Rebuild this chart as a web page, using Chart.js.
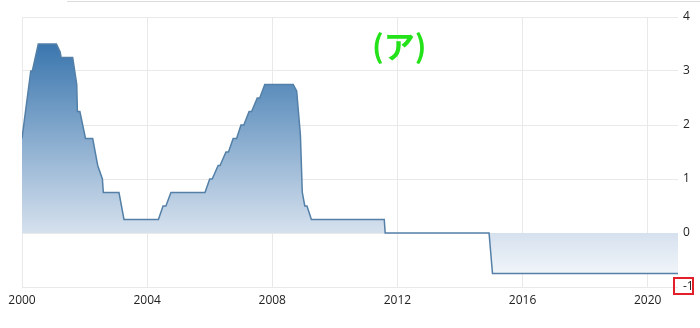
<!DOCTYPE html>
<html>
<head>
<meta charset="utf-8">
<script src="https://cdn.jsdelivr.net/npm/chart.js@4"></script>
<style>
  body { margin: 0; background: #fff; }
  #wrap { position: relative; width: 700px; height: 328px; overflow: hidden; }
  #topline { position: absolute; left: 67px; top: 1px; width: 640px; height: 1px; background: #dcdcdc; }
  #label { position: absolute; left: 372px; top: 27px; font-family: "Noto Sans CJK JP", sans-serif; font-weight: bold; font-size: 31px; line-height: 36px; color: #24e21a; }
  #redbox { position: absolute; left: 673px; top: 277px; width: 17px; height: 14px; border: 2px solid #e3202a; }
</style>
</head>
<body>
<div id="wrap">
  <canvas id="rate-chart" width="700" height="328"></canvas>
  <div id="topline"></div>
  <div id="label">(ア)</div>
  <div id="redbox"></div>
</div>
<script>
// decimal years and rate (%)
const dates = [
    2000.00, 2000.28, 2000.33, 2000.52, 2001.10, 2001.22, 2001.25, 2001.62,
    2001.75, 2001.77, 2001.85, 2002.03, 2002.26, 2002.42, 2002.57, 2002.60,
    2003.10, 2003.26, 2004.36, 2004.51, 2004.60, 2004.76, 2005.85, 2006.00,
    2006.08, 2006.27, 2006.33, 2006.52, 2006.60, 2006.75, 2006.86, 2007.00,
    2007.09, 2007.26, 2007.34, 2007.52, 2007.60, 2007.76, 2008.67, 2008.78,
    2008.90, 2008.96, 2009.04, 2009.11, 2009.25, 2011.58, 2011.61, 2014.93,
    2015.04, 2020.97
];
const rates = [
    1.75, 3.00, 3.00, 3.50, 3.50, 3.35, 3.25, 3.25,
    2.75, 2.25, 2.25, 1.75, 1.75, 1.25, 1.00, 0.75,
    0.75, 0.25, 0.25, 0.50, 0.50, 0.75, 0.75, 1.00,
    1.00, 1.25, 1.25, 1.50, 1.50, 1.75, 1.75, 2.00,
    2.00, 2.25, 2.25, 2.50, 2.50, 2.75, 2.75, 2.63,
    1.81, 0.75, 0.50, 0.50, 0.25, 0.25, 0.00, 0.00,
    -0.75, -0.75
];
const xTicks = [2000, 2004, 2008, 2012, 2016, 2020];
const yTicks = [-1, 0, 1, 2, 3, 4];

const points = dates.map((d, i) => ({ x: d, y: rates[i] }));

function areaGradient(context) {
    const area = context.chart.chartArea;
    if (!area) return 'rgba(70,120,170,0.5)';
    const g = context.chart.ctx.createLinearGradient(0, area.top, 0, area.bottom);
    g.addColorStop(0, 'rgb(40,105,165)');
    g.addColorStop(0.1, 'rgb(58,118,174)');
    g.addColorStop(0.8, 'rgb(214,225,238)');
    g.addColorStop(1, 'rgb(249,251,253)');
    return g;
}

const ctx = document.getElementById('rate-chart').getContext('2d');
const chart = new Chart(ctx, {
    type: 'line',
    data: {
        datasets: [{
            data: points,
            borderColor: 'rgb(84,128,168)',
            borderWidth: 1.5,
            backgroundColor: areaGradient,
            fill: 'origin',
            pointRadius: 0,
            tension: 0
        }]
    },
    options: {
        responsive: false,
        animation: false,
        layout: { padding: { left: 22, top: 17, right: 0, bottom: 0 } },
        plugins: { legend: { display: false }, tooltip: { enabled: false } },
        scales: {
            x: {
                type: 'linear',
                min: 2000,
                max: 2020.97,
                afterBuildTicks: scale => { scale.ticks = xTicks.map(v => ({ value: v })); },
                afterFit: scale => { scale.height = 41; },
                ticks: {
                    callback: v => String(v),
                    maxRotation: 0,
                    padding: 6,
                    color: '#222',
                    font: { family: 'Open Sans', size: 12 }
                },
                grid: { color: '#e9e9e9', drawTicks: false },
                border: { display: false }
            },
            y: {
                position: 'right',
                min: -1,
                max: 4,
                afterBuildTicks: scale => { scale.ticks = yTicks.map(v => ({ value: v })); },
                afterFit: scale => { scale.width = 22; },
                ticks: {
                    callback: v => String(v),
                    padding: 5,
                    color: '#222',
                    font: { family: 'Open Sans', size: 12 }
                },
                grid: { color: '#e9e9e9', drawTicks: false },
                border: { display: false }
            }
        }
    }
});
</script>
</body>
</html>
